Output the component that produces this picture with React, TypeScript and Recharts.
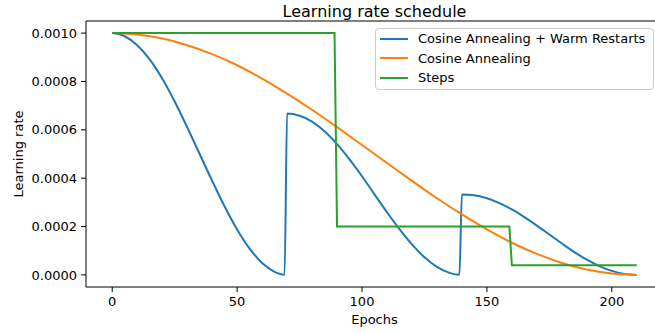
import React from 'react';
import { LineChart, Line, XAxis, YAxis, ReferenceLine, Legend } from 'recharts';

const FONT = '"DejaVu Sans", sans-serif';

// Cosine Annealing + Warm Restarts
const wrEpochs = [
  0, 5, 10, 15, 20, 25, 30, 35, 40, 45, 50, 55, 60, 65, 69,
  70, 75, 80, 85, 90, 95, 100, 105, 110, 115, 120, 125, 130, 135, 139,
  140, 145, 150, 155, 160, 165, 170, 175, 180, 185, 190, 195, 200, 205, 210,
];
const wrValues = [
  0.001, 0.000987, 0.00095, 0.000891, 0.000812, 0.000717, 0.000611, 0.0005, 0.000389, 0.000283, 0.000188, 0.000109, 0.0000495, 0.0000125, 0.0000005,
  0.000667, 0.000658, 0.000634, 0.000594, 0.000541, 0.000478, 0.000408, 0.000333, 0.000259, 0.000189, 0.000126, 0.0000727, 0.000033, 0.0000084, 0.0000003,
  0.000333, 0.000329, 0.000317, 0.000297, 0.000271, 0.000239, 0.000204, 0.000167, 0.00013, 0.0000944, 0.0000628, 0.0000364, 0.0000165, 0.0000042, 0,
];

// Cosine Annealing
const caEpochs = [0, 10, 20, 30, 40, 50, 60, 70, 80, 90, 100, 110, 120, 130, 140, 150, 160, 170, 180, 190, 200, 210];
const caValues = [
  0.001, 0.000994, 0.000978, 0.00095, 0.000913, 0.000867, 0.000812, 0.00075, 0.000683, 0.000611, 0.000537,
  0.000463, 0.000389, 0.000317, 0.00025, 0.000188, 0.000133, 0.0000869, 0.0000495, 0.0000222, 0.0000056, 0,
];

// Steps
const stepEpochs = [0, 89, 90, 159, 160, 210];
const stepValues = [0.001, 0.001, 0.0002, 0.0002, 0.00004, 0.00004];

const seriesNames = ['Cosine Annealing + Warm Restarts', 'Cosine Annealing', 'Steps'];
const seriesColors = ['#1f77b4', '#ff7f0e', '#2ca02c'];

const xTicks = [0, 50, 100, 150, 200];
const yTicks = [0, 0.0002, 0.0004, 0.0006, 0.0008, 0.001];
const xDomain: [number, number] = [-10.5, 220.5];
const yDomain: [number, number] = [-0.00005, 0.00105];

const titleText = 'Learning rate schedule';
const xLabelText = 'Epochs';
const yLabelText = 'Learning rate';

const toRows = (xs: number[], ys: number[]) => xs.map((epoch, i) => ({ epoch, lr: ys[i] }));
const wrData = toRows(wrEpochs, wrValues);
const caData = toRows(caEpochs, caValues);
const stepData = toRows(stepEpochs, stepValues);

const renderLegend = () => (
  <div
    style={{
      boxSizing: 'border-box',
      width: 279,
      height: 62,
      border: '1px solid #cccccc',
      borderRadius: 4,
      background: 'rgba(255,255,255,0.8)',
    }}
  >
    {seriesNames.map((name, i) => (
      <div key={name} style={{ display: 'flex', alignItems: 'center', height: 19.5 }}>
        <div style={{ marginLeft: 4, width: 28, height: 2, background: seriesColors[i] }} />
        <span
          style={{
            marginLeft: 10,
            fontSize: 13,
            fontFamily: FONT,
            color: '#000',
            lineHeight: '19.5px',
            whiteSpace: 'nowrap',
          }}
        >
          {name}
        </span>
      </div>
    ))}
  </div>
);

const renderYLabel = (props: any) => {
  const vb = props && props.viewBox ? props.viewBox : { y: 21, height: 266 };
  const cx = 23;
  const cy = vb.y + vb.height / 2;
  return (
    <text
      x={cx}
      y={cy}
      transform={`rotate(-90 ${cx} ${cy})`}
      textAnchor="middle"
      fill="#000"
      fontSize={13}
      fontFamily={FONT}
    >
      {yLabelText}
    </text>
  );
};

export default function App() {
  return (
    <div
      style={{
        position: 'absolute',
        left: 0,
        top: 0,
        width: 655,
        height: 333,
        overflow: 'hidden',
        background: '#fff',
      }}
    >
      <LineChart width={670} height={333} margin={{ top: 21, right: 7, bottom: 0, left: 0 }}>
        <XAxis
          type="number"
          dataKey="epoch"
          domain={xDomain}
          ticks={xTicks}
          interval={0}
          allowDataOverflow
          height={46}
          tickSize={5}
          tickMargin={5}
          axisLine={{ stroke: '#000', strokeWidth: 1 }}
          tickLine={{ stroke: '#000', strokeWidth: 1 }}
          tick={{ fill: '#000', fontSize: 13, fontFamily: FONT }}
          label={{ value: xLabelText, position: 'insideBottom', offset: 9, fill: '#000', fontSize: 13, fontFamily: FONT }}
        />
        <YAxis
          type="number"
          dataKey="lr"
          domain={yDomain}
          ticks={yTicks}
          interval={0}
          allowDataOverflow
          width={86}
          tickSize={5}
          tickMargin={4}
          tickFormatter={(v: number) => v.toFixed(4)}
          axisLine={{ stroke: '#000', strokeWidth: 1 }}
          tickLine={{ stroke: '#000', strokeWidth: 1 }}
          tick={{ fill: '#000', fontSize: 13, fontFamily: FONT }}
          label={renderYLabel}
        />
        <ReferenceLine
          y={yDomain[1]}
          stroke="#000"
          strokeWidth={1}
          ifOverflow="visible"
          label={{ value: titleText, position: 'top', offset: 4, fill: '#000', fontSize: 16, fontFamily: FONT }}
        />
        <Line
          data={wrData}
          dataKey="lr"
          name={seriesNames[0]}
          type="monotone"
          stroke={seriesColors[0]}
          strokeWidth={2}
          dot={false}
          activeDot={false}
          isAnimationActive={false}
        />
        <Line
          data={caData}
          dataKey="lr"
          name={seriesNames[1]}
          type="monotone"
          stroke={seriesColors[1]}
          strokeWidth={2}
          dot={false}
          activeDot={false}
          isAnimationActive={false}
        />
        <Line
          data={stepData}
          dataKey="lr"
          name={seriesNames[2]}
          type="linear"
          stroke={seriesColors[2]}
          strokeWidth={2}
          dot={false}
          activeDot={false}
          isAnimationActive={false}
        />
        <Legend
          content={renderLegend}
          layout="vertical"
          align="center"
          verticalAlign="middle"
          wrapperStyle={{ left: 375, top: 28, width: 279, height: 62 }}
        />
      </LineChart>
    </div>
  );
}
